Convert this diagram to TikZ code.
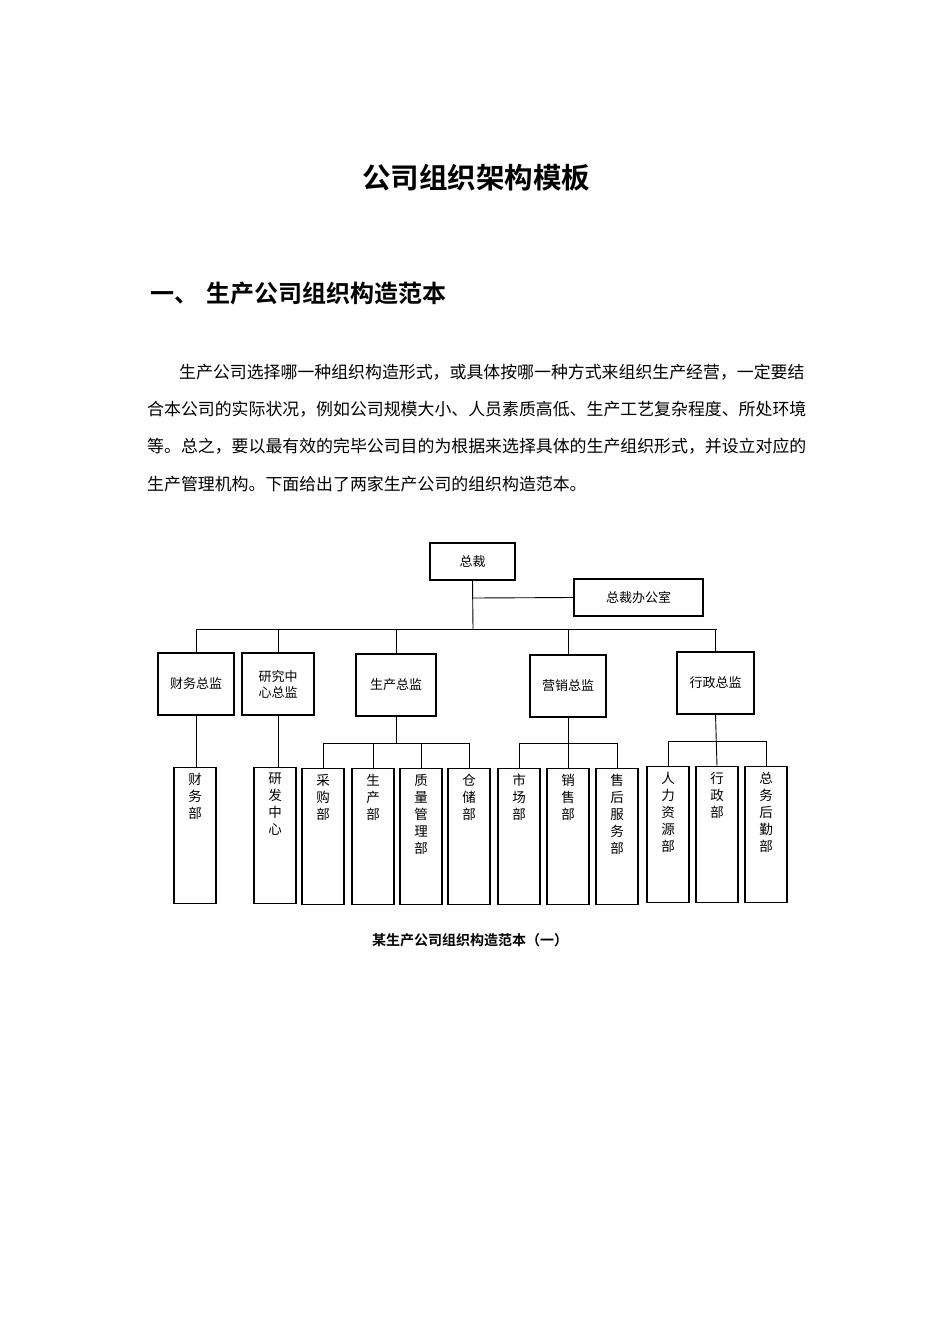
\documentclass[tikz,border=0pt]{standalone}
\usepackage{fontspec}
\setmainfont{Noto Sans CJK SC}[BoldFont=* Bold]
\begin{document}
\begin{tikzpicture}[x=1pt,y=-1pt,
  bx/.style={draw,line width=1.1pt,minimum width=#1,inner sep=0pt,font=\fontsize{13}{15}\selectfont},
  vb/.style={draw,line width=1.1pt,minimum width=42pt,minimum height=136pt,inner sep=0pt,anchor=north,
    label={[anchor=north,align=center,inner sep=0pt,yshift=-6pt,font=\fontsize{13.5}{17}\selectfont]north:{#1}}},
  ln/.style={line width=0.9pt}]
\useasboundingbox[fill=white] (0,0) rectangle (950,1344);
\node (title) at (476,178) {\fontsize{28.5}{32}\selectfont\bfseries 公司组织架构模板};
\node[anchor=west] (h1) at (147,293) {\fontsize{24}{28}\selectfont\bfseries 一、\hspace{8pt}生产公司组织构造范本};
\begin{scope}[every node/.style={anchor=west,inner sep=0pt,font=\fontsize{16.9}{20}\selectfont}]
\node (p1) at (179,372) {生产公司选择哪一种组织构造形式，或具体按哪一种方式来组织生产经营，一定要结};
\node (p2) at (147,409) {合本公司的实际状况，例如公司规模大小、人员素质高低、生产工艺复杂程度、所处环境};
\node (p3) at (147,446) {等。总之，要以最有效的完毕公司目的为根据来选择具体的生产组织形式，并设立对应的};
\node (p4) at (147,484) {生产管理机构。下面给出了两家生产公司的组织构造范本。};
\end{scope}
% level 0
\node[bx=85pt,minimum height=37pt] (ceo) at (472.5,561.5) {总裁};
\node[bx=129pt,minimum height=37pt] (off) at (638.5,597.5) {总裁办公室};
\coordinate (bus) at (473,629);
\coordinate (br) at (473,598);
\draw[ln] (ceo.south) -- (bus);
\draw[ln] (br) -- (off.west);
% level 1
\node[bx=76pt,minimum height=62pt] (cw) at (196,684) {财务总监};
\node[bx=72pt,minimum height=62pt,align=center,font=\fontsize{13}{16}\selectfont] (yj) at (278,684) {研究中\\心总监};
\node[bx=80pt,minimum height=62pt] (sc) at (396,685) {生产总监};
\node[bx=76pt,minimum height=62pt] (yx) at (568,686) {营销总监};
\node[bx=77pt,minimum height=62pt] (xz) at (715.5,683) {行政总监};
\draw[ln] (196,629) -- (717,629);
\foreach \n in {cw,yj,sc,yx,xz} \draw[ln] (\n.north) -- (\n.north |- bus);
% level 2
\node[vb={财\\务\\部}] (cwb) at (195,767) {};
\node[vb={研\\发\\中\\心}] (yfb) at (275,767) {};
\node[vb={采\\购\\部}] (cg) at (323,768) {};
\node[vb={生\\产\\部}] (scb) at (373,768) {};
\node[vb={质\\量\\管\\理\\部}] (zl) at (421,768) {};
\node[vb={仓\\储\\部}] (cc) at (469,768) {};
\node[vb={市\\场\\部}] (sb) at (519,768) {};
\node[vb={销\\售\\部}] (xs) at (568,768) {};
\node[vb={售\\后\\服\\务\\部}] (sh) at (617,768) {};
\node[vb={人\\力\\资\\源\\部}] (rl) at (668,766) {};
\node[vb={行\\政\\部}] (xzb) at (717,766) {};
\node[vb={总\\务\\后\\勤\\部}] (zw) at (766,766) {};
\draw[ln] (cw.south) -- (cw.south |- cwb.north);
\draw[ln] (yj.south) -- (yj.south |- yfb.north);
\coordinate (b1) at (396,743);
\draw[ln] (sc.south) -- (b1);
\draw[ln] (cg.north) -- (cg.north |- b1) -- (cc.north |- b1) -- (cc.north);
\draw[ln] (scb.north) -- (scb.north |- b1);
\draw[ln] (zl.north) -- (zl.north |- b1);
\coordinate (b2) at (568,743);
\draw[ln] (yx.south) -- (xs.north);
\draw[ln] (sb.north) -- (sb.north |- b2) -- (sh.north |- b2) -- (sh.north);
\coordinate (b3) at (716,741);
\draw[ln] (xz.south) -- (xzb.north);
\draw[ln] (rl.north) -- (rl.north |- b3) -- (zw.north |- b3) -- (zw.north);
\node (cap) at (470,940) {\fontsize{14}{16}\selectfont\bfseries 某生产公司组织构造范本（一）};
\end{tikzpicture}
\end{document}
